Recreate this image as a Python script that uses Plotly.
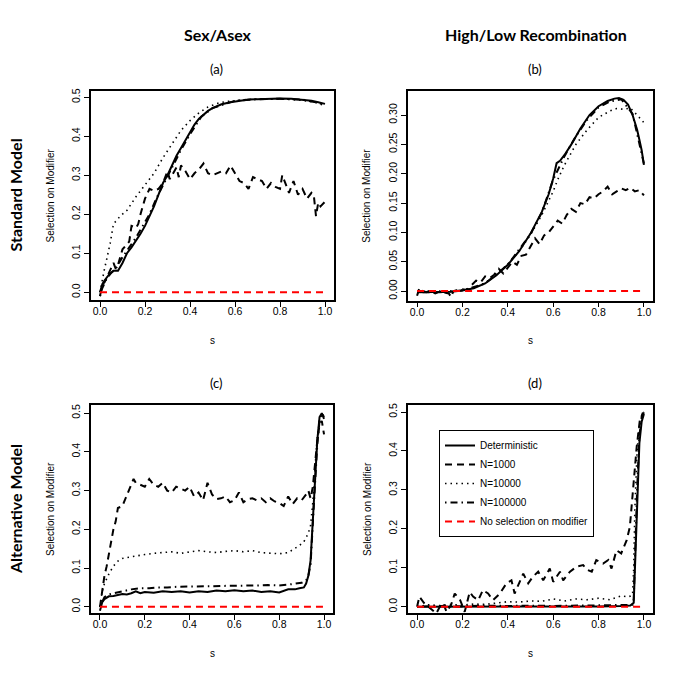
import plotly.graph_objects as go

# ---------------- DATA ----------------
# Panel (a) Standard model, Sex/Asex
S_A_DET = [0, 0.01, 0.02, 0.04, 0.06, 0.08, 0.10, 0.12, 0.14, 0.16, 0.18, 0.20, 0.22, 0.24, 0.26, 0.28, 0.30, 0.32, 0.34, 0.36, 0.38, 0.40, 0.42, 0.44, 0.46, 0.48, 0.50, 0.54, 0.58, 0.62, 0.66, 0.70, 0.75, 0.80, 0.85, 0.90, 0.94, 0.97, 1.00]
A_DET = [0.0, 0.02, 0.03, 0.045, 0.055, 0.055, 0.075, 0.10, 0.115, 0.132, 0.15, 0.17, 0.195, 0.22, 0.25, 0.28, 0.30, 0.325, 0.35, 0.37, 0.39, 0.41, 0.43, 0.445, 0.455, 0.465, 0.472, 0.482, 0.487, 0.491, 0.494, 0.495, 0.496, 0.497, 0.496, 0.494, 0.491, 0.487, 0.483]
S_A_N1K = [0, 0.01, 0.02, 0.04, 0.06, 0.07, 0.08, 0.10, 0.12, 0.13, 0.14, 0.16, 0.17, 0.18, 0.20, 0.22, 0.24, 0.26, 0.28, 0.30, 0.31, 0.32, 0.34, 0.35, 0.36, 0.38, 0.40, 0.42, 0.44, 0.46, 0.48, 0.50, 0.52, 0.54, 0.56, 0.58, 0.60, 0.62, 0.64, 0.66, 0.68, 0.70, 0.72, 0.74, 0.76, 0.78, 0.80, 0.81, 0.82, 0.84, 0.86, 0.88, 0.90, 0.92, 0.94, 0.95, 0.96, 0.97, 0.98, 1.0]
A_N1K = [-0.01, 0.02, 0.025, 0.05, 0.075, 0.06, 0.07, 0.11, 0.125, 0.13, 0.17, 0.165, 0.175, 0.2, 0.24, 0.265, 0.26, 0.265, 0.28, 0.31, 0.29, 0.3, 0.32, 0.295, 0.325, 0.31, 0.29, 0.305, 0.315, 0.33, 0.305, 0.3, 0.305, 0.31, 0.305, 0.325, 0.305, 0.285, 0.28, 0.265, 0.295, 0.29, 0.285, 0.265, 0.28, 0.27, 0.265, 0.3, 0.285, 0.255, 0.285, 0.25, 0.265, 0.24, 0.255, 0.25, 0.195, 0.23, 0.22, 0.232]
S_A_N10K = [0, 0.01, 0.02, 0.03, 0.045, 0.06, 0.075, 0.09, 0.12, 0.16, 0.20, 0.24, 0.28, 0.32, 0.36, 0.40, 0.44, 0.48, 0.52, 0.56, 0.60, 0.65, 0.70, 0.80, 0.90, 0.95, 1.0]
A_N10K = [0.0, 0.035, 0.06, 0.085, 0.125, 0.175, 0.185, 0.195, 0.21, 0.245, 0.275, 0.305, 0.345, 0.38, 0.415, 0.44, 0.46, 0.475, 0.484, 0.489, 0.492, 0.494, 0.495, 0.496, 0.492, 0.488, 0.478]
S_A_N100K = [0, 0.01, 0.03, 0.05, 0.07, 0.10, 0.13, 0.16, 0.19, 0.22, 0.25, 0.28, 0.32, 0.36, 0.40, 0.45, 0.50, 0.60, 0.70, 0.80, 0.90, 1.0]
A_N100K = [-0.01, 0.01, 0.035, 0.05, 0.06, 0.09, 0.115, 0.14, 0.17, 0.2, 0.24, 0.275, 0.32, 0.365, 0.405, 0.45, 0.472, 0.491, 0.495, 0.496, 0.494, 0.482]

# Panel (b) Standard model, High/Low recombination
S_B_DET = [0, 0.05, 0.10, 0.15, 0.20, 0.25, 0.30, 0.35, 0.40, 0.45, 0.50, 0.55, 0.58, 0.60, 0.615, 0.63, 0.65, 0.68, 0.72, 0.76, 0.80, 0.84, 0.87, 0.89, 0.91, 0.93, 0.95, 0.97, 0.98, 0.99, 1.0]
B_DET = [-0.002, -0.002, -0.002, -0.001, 0.001, 0.005, 0.013, 0.027, 0.045, 0.068, 0.098, 0.135, 0.165, 0.192, 0.218, 0.222, 0.232, 0.25, 0.277, 0.3, 0.315, 0.324, 0.328, 0.329, 0.326, 0.318, 0.3, 0.275, 0.258, 0.24, 0.215]
S_B_N1K = [0, 0.01, 0.02, 0.04, 0.06, 0.08, 0.10, 0.12, 0.14, 0.15, 0.16, 0.18, 0.20, 0.22, 0.24, 0.26, 0.28, 0.30, 0.32, 0.34, 0.36, 0.38, 0.40, 0.42, 0.44, 0.46, 0.48, 0.50, 0.52, 0.54, 0.56, 0.58, 0.60, 0.62, 0.64, 0.66, 0.68, 0.70, 0.72, 0.74, 0.76, 0.78, 0.80, 0.82, 0.84, 0.86, 0.88, 0.90, 0.92, 0.94, 0.96, 0.98, 1.0]
B_N1K = [-0.008, 0.005, 0.001, -0.002, 0.001, -0.004, -0.001, -0.003, -0.004, -0.01, 0.0, 0.002, 0.003, 0.002, 0.01, 0.018, 0.015, 0.025, 0.022, 0.028, 0.038, 0.03, 0.04, 0.05, 0.045, 0.06, 0.062, 0.075, 0.09, 0.08, 0.095, 0.1, 0.11, 0.12, 0.115, 0.13, 0.14, 0.135, 0.15, 0.148, 0.16, 0.158, 0.165, 0.17, 0.178, 0.165, 0.17, 0.175, 0.172, 0.176, 0.17, 0.172, 0.163]
S_B_N10K = [0, 0.05, 0.10, 0.15, 0.20, 0.25, 0.30, 0.35, 0.40, 0.45, 0.50, 0.55, 0.60, 0.62, 0.65, 0.70, 0.75, 0.80, 0.85, 0.88, 0.91, 0.94, 0.97, 1.0]
B_N10K = [0.0, 0.0, -0.001, 0.0, 0.002, 0.006, 0.014, 0.028, 0.046, 0.068, 0.096, 0.13, 0.17, 0.19, 0.215, 0.25, 0.275, 0.296, 0.307, 0.311, 0.31, 0.312, 0.3, 0.287]
S_B_N100K = [0, 0.10, 0.20, 0.30, 0.40, 0.50, 0.55, 0.60, 0.65, 0.70, 0.75, 0.80, 0.85, 0.90, 0.95, 1.0]
B_N100K = [-0.002, -0.002, 0.001, 0.013, 0.045, 0.097, 0.134, 0.19, 0.23, 0.264, 0.292, 0.313, 0.323, 0.327, 0.302, 0.217]

# Panel (c) Alternative model, Sex/Asex
S_C_DET = [0, 0.005, 0.01, 0.02, 0.04, 0.06, 0.08, 0.10, 0.12, 0.14, 0.16, 0.18, 0.20, 0.24, 0.28, 0.32, 0.36, 0.40, 0.44, 0.48, 0.52, 0.56, 0.60, 0.64, 0.68, 0.72, 0.76, 0.80, 0.84, 0.87, 0.89, 0.91, 0.92, 0.93, 0.94, 0.95, 0.96, 0.97, 0.98, 0.99, 1.0]
C_DET = [-0.01, 0.005, 0.012, 0.02, 0.027, 0.028, 0.03, 0.033, 0.032, 0.035, 0.04, 0.035, 0.038, 0.036, 0.04, 0.038, 0.04, 0.037, 0.04, 0.038, 0.042, 0.04, 0.043, 0.04, 0.042, 0.038, 0.04, 0.037, 0.045, 0.045, 0.048, 0.05, 0.06, 0.08, 0.12, 0.22, 0.33, 0.43, 0.49, 0.5, 0.485]
S_C_N1K = [0, 0.01, 0.02, 0.03, 0.045, 0.06, 0.07, 0.08, 0.10, 0.12, 0.14, 0.15, 0.16, 0.18, 0.20, 0.22, 0.24, 0.26, 0.28, 0.30, 0.32, 0.34, 0.36, 0.38, 0.40, 0.42, 0.44, 0.46, 0.48, 0.50, 0.52, 0.54, 0.56, 0.58, 0.60, 0.62, 0.64, 0.66, 0.68, 0.70, 0.72, 0.74, 0.76, 0.78, 0.80, 0.82, 0.84, 0.86, 0.88, 0.90, 0.92, 0.93, 0.94, 0.95, 0.96, 0.97, 0.98, 0.99, 1.0]
C_N1K = [0.0, 0.04, 0.08, 0.105, 0.155, 0.2, 0.22, 0.255, 0.26, 0.29, 0.315, 0.33, 0.32, 0.315, 0.31, 0.33, 0.315, 0.31, 0.32, 0.3, 0.295, 0.31, 0.305, 0.3, 0.31, 0.285, 0.295, 0.275, 0.32, 0.29, 0.278, 0.28, 0.285, 0.27, 0.275, 0.295, 0.27, 0.278, 0.28, 0.275, 0.28, 0.27, 0.28, 0.272, 0.268, 0.26, 0.285, 0.265, 0.28, 0.275, 0.29, 0.3, 0.28, 0.31, 0.37, 0.43, 0.47, 0.48, 0.445]
S_C_N10K = [0, 0.01, 0.02, 0.04, 0.06, 0.08, 0.10, 0.13, 0.16, 0.20, 0.24, 0.28, 0.32, 0.36, 0.40, 0.44, 0.48, 0.52, 0.56, 0.60, 0.64, 0.68, 0.72, 0.76, 0.80, 0.84, 0.87, 0.89, 0.91, 0.93, 0.94, 0.95, 0.96, 0.97, 0.98, 0.99, 1.0]
C_N10K = [0.0, 0.04, 0.06, 0.085, 0.105, 0.118, 0.125, 0.128, 0.132, 0.135, 0.138, 0.14, 0.142, 0.138, 0.142, 0.145, 0.142, 0.14, 0.143, 0.145, 0.142, 0.145, 0.14, 0.138, 0.137, 0.14, 0.15, 0.158, 0.168, 0.19, 0.21, 0.27, 0.36, 0.44, 0.48, 0.5, 0.49]
S_C_N100K = [0, 0.01, 0.02, 0.04, 0.06, 0.08, 0.10, 0.14, 0.18, 0.22, 0.26, 0.30, 0.35, 0.40, 0.45, 0.50, 0.55, 0.60, 0.65, 0.70, 0.75, 0.80, 0.85, 0.88, 0.90, 0.92, 0.93, 0.94, 0.95, 0.96, 0.97, 0.98, 0.99, 1.0]
C_N100K = [0.0, 0.015, 0.025, 0.032, 0.035, 0.038, 0.04, 0.045, 0.048, 0.048, 0.05, 0.05, 0.052, 0.052, 0.053, 0.053, 0.054, 0.054, 0.055, 0.055, 0.056, 0.055, 0.058, 0.06, 0.062, 0.068, 0.08, 0.11, 0.2, 0.32, 0.42, 0.48, 0.5, 0.49]

# Panel (d) Alternative model, High/Low recombination
S_D_DET = [0, 0.1, 0.2, 0.3, 0.4, 0.5, 0.6, 0.7, 0.8, 0.9, 0.94, 0.955, 0.96, 0.97, 0.98, 0.99, 1.0]
D_DET = [0.0, 0.0, 0.0, 0.0, 0.0, 0.0, 0.0, 0.001, 0.001, 0.002, 0.003, 0.01, 0.1, 0.28, 0.42, 0.475, 0.495]
S_D_N1K = [0.0, 0.01, 0.03, 0.056, 0.085, 0.10, 0.115, 0.13, 0.15, 0.166, 0.19, 0.21, 0.232, 0.247, 0.27, 0.29, 0.313, 0.335, 0.365, 0.394, 0.416, 0.43, 0.453, 0.468, 0.49, 0.51, 0.534, 0.556, 0.585, 0.60, 0.63, 0.644, 0.674, 0.703, 0.732, 0.75, 0.77, 0.79, 0.82, 0.843, 0.857, 0.879, 0.90, 0.924, 0.938, 0.953, 0.968, 0.982, 0.994, 1.0]
D_N1K = [0.0, 0.026, 0.01, -0.004, -0.017, 0.0, 0.009, -0.013, 0.005, 0.034, 0.017, -0.013, 0.038, 0.026, 0.017, 0.043, 0.034, 0.017, 0.034, 0.06, 0.068, 0.034, 0.068, 0.085, 0.06, 0.077, 0.09, 0.068, 0.098, 0.064, 0.09, 0.068, 0.09, 0.103, 0.107, 0.095, 0.09, 0.12, 0.111, 0.12, 0.098, 0.145, 0.137, 0.171, 0.205, 0.316, 0.41, 0.479, 0.496, 0.495]
S_D_N10K = [0, 0.05, 0.1, 0.15, 0.2, 0.25, 0.3, 0.35, 0.4, 0.45, 0.5, 0.55, 0.6, 0.65, 0.7, 0.75, 0.8, 0.85, 0.9, 0.93, 0.95, 0.955, 0.96, 0.97, 0.98, 0.99, 1.0]
D_N10K = [0.0, 0.005, 0.003, 0.006, 0.004, 0.007, 0.006, 0.01, 0.013, 0.012, 0.015, 0.014, 0.02, 0.015, 0.02, 0.018, 0.022, 0.018, 0.028, 0.025, 0.03, 0.1, 0.25, 0.4, 0.47, 0.49, 0.5]
S_D_N100K = [0, 0.1, 0.2, 0.3, 0.4, 0.5, 0.6, 0.7, 0.8, 0.9, 0.95, 0.955, 0.96, 0.97, 0.98, 0.99, 1.0]
D_N100K = [0.0, 0.002, 0.001, 0.003, 0.002, 0.003, 0.002, 0.003, 0.003, 0.004, 0.005, 0.02, 0.12, 0.3, 0.44, 0.485, 0.5]

# Reference line: no selection on modifier
S_NULL = [0.0, 1.0]
Y_NULL = [0.0, 0.0]

SERIES_NAMES = ["Deterministic", "N=1000", "N=10000", "N=100000", "No selection on modifier"]
COL_TITLES = ["Sex/Asex", "High/Low Recombination"]
ROW_TITLES = ["Standard Model", "Alternative Model"]
PANEL_TAGS = ["(a)", "(b)", "(c)", "(d)"]
X_TICKS = [0.0, 0.2, 0.4, 0.6, 0.8, 1.0]
Y_TICKS_01 = [0.0, 0.1, 0.2, 0.3, 0.4, 0.5]
Y_TICKS_005 = [0.0, 0.05, 0.10, 0.15, 0.20, 0.25, 0.30]

panels = [
    [(S_A_DET, A_DET), (S_A_N1K, A_N1K), (S_A_N10K, A_N10K), (S_A_N100K, A_N100K)],
    [(S_B_DET, B_DET), (S_B_N1K, B_N1K), (S_B_N10K, B_N10K), (S_B_N100K, B_N100K)],
    [(S_C_DET, C_DET), (S_C_N1K, C_N1K), (S_C_N10K, C_N10K), (S_C_N100K, C_N100K)],
    [(S_D_DET, D_DET), (S_D_N1K, D_N1K), (S_D_N10K, D_N10K), (S_D_N100K, D_N100K)],
]
for p in panels:
    for sx, sy in p:
        assert len(sx) == len(sy), (len(sx), len(sy))

# ---------------- STYLE / LAYOUT ----------------
W = H = 685
def px_x(v):
    return v / W
def px_y(v):
    return 1 - v / H

# panel boxes in pixels (left, right, top, bottom)
boxes = [(91, 334, 91, 300), (408, 653, 91, 300.5), (91, 333, 405, 613), (408, 653, 405, 613)]
yranges = [[-0.02, 0.516], [-0.016, 0.341], [-0.016, 0.521], [-0.016, 0.518]]
yticks = [Y_TICKS_01, Y_TICKS_005, Y_TICKS_01, Y_TICKS_01]
yfmt = [".1f", ".2f", ".1f", ".1f"]

styles = [
    dict(color="black", width=2, dash="solid"),
    dict(color="black", width=2, dash="7px,5px"),
    dict(color="black", width=1.6, dash="1.5px,4px"),
    dict(color="black", width=2, dash="1.5px,4px,7px,4px"),
    dict(color="#FF0000", width=2, dash="7px,5px"),
]

TICK_FONT = dict(family="Liberation Sans, Arial, sans-serif", size=10.5, color="black")
LABEL_FONT = dict(family="Liberation Sans, Arial, sans-serif", size=10, color="black")
TITLE_FONT = dict(family="Lato, Open Sans, sans-serif", size=16, color="black")
TAG_FONT = dict(family="Lato, Open Sans, sans-serif", size=13, color="black")

fig = go.Figure()
layout = dict(
    width=W, height=H, margin=dict(l=0, r=0, t=0, b=0, autoexpand=False),
    paper_bgcolor="white", plot_bgcolor="white",
    showlegend=True,
)
annotations = []

for i, p in enumerate(panels):
    n = "" if i == 0 else str(i + 1)
    xa, ya = "x" + n, "y" + n
    for k, (sx, sy) in enumerate(p):
        fig.add_trace(go.Scatter(x=sx, y=sy, mode="lines", line=styles[k], name=SERIES_NAMES[k],
                                 showlegend=(i == 3), xaxis=xa, yaxis=ya, hoverinfo="skip"))
    fig.add_trace(go.Scatter(x=S_NULL, y=Y_NULL, mode="lines", line=styles[4], name=SERIES_NAMES[4],
                             showlegend=(i == 3), xaxis=xa, yaxis=ya, hoverinfo="skip"))
    l, r, t, b = boxes[i]
    common = dict(showline=True, linecolor="black", linewidth=1.5, mirror=True, ticks="outside",
                  ticklen=5, tickwidth=1, tickcolor="black", showgrid=False, zeroline=False,
                  tickfont=TICK_FONT, automargin=False, fixedrange=True)
    layout["xaxis" + n] = dict(domain=[px_x(l), px_x(r)], range=[-0.04, 1.04], anchor=ya,
                               tickvals=X_TICKS, tickformat=".1f", ticklabelstandoff=-4, **common)
    layout["yaxis" + n] = dict(domain=[px_y(b), px_y(t)], range=yranges[i], anchor=xa,
                               tickvals=yticks[i], tickformat=yfmt[i], tickangle=-90, **common)
    cx = (l + r) / 2
    cy = (t + b) / 2
    annotations.append(dict(text="s", x=px_x(cx), y=px_y(b + 40), xref="paper", yref="paper",
                            showarrow=False, font=LABEL_FONT, xanchor="center", yanchor="middle"))
    annotations.append(dict(text="Selection on Modifier", x=px_x(l - 41), y=px_y(cy), xref="paper", yref="paper",
                            showarrow=False, font=LABEL_FONT, textangle=-90, xanchor="center", yanchor="middle"))
    annotations.append(dict(text=PANEL_TAGS[i], x=px_x(cx + 4), y=px_y(t - 22), xref="paper", yref="paper",
                            showarrow=False, font=TAG_FONT, xanchor="center", yanchor="middle"))

for j, txt in enumerate(COL_TITLES):
    l, r, t, b = boxes[j]
    annotations.append(dict(text="<b>%s</b>" % txt, x=px_x((l + r) / 2 + 5), y=px_y(34), xref="paper", yref="paper",
                            showarrow=False, font=TITLE_FONT, xanchor="center", yanchor="middle"))
for j, txt in enumerate(ROW_TITLES):
    l, r, t, b = boxes[2 * j]
    annotations.append(dict(text="<b>%s</b>" % txt, x=px_x(15), y=px_y((t + b) / 2), xref="paper", yref="paper",
                            showarrow=False, font=TITLE_FONT, textangle=-90, xanchor="center", yanchor="middle"))

layout["annotations"] = annotations
layout["legend"] = dict(x=px_x(439), y=px_y(430), xanchor="left", yanchor="top",
                        bordercolor="black", borderwidth=1, bgcolor="white",
                        font=dict(family="Liberation Sans, Arial, sans-serif", size=10, color="black"),
                        tracegroupgap=0, itemwidth=30)
fig.update_layout(**layout)
fig.write_html("out.html", config={"displayModeBar": False},
               post_script="document.body.style.margin='0';")
